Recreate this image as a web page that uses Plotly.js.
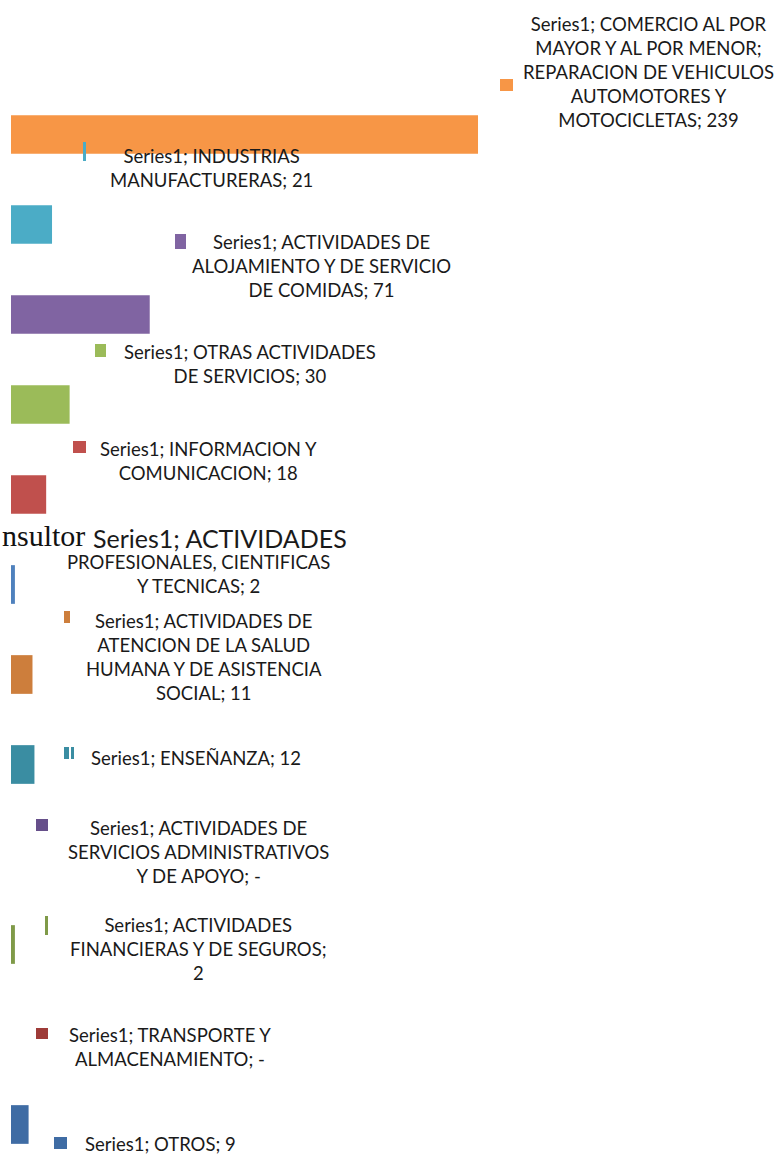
<!DOCTYPE html>
<html>
<head>
<meta charset="utf-8">
<script src="https://cdn.plot.ly/plotly-3.0.1.min.js"></script>
<style>html,body{margin:0;padding:0;background:#fff;}#chart{width:777px;height:1158px;}</style>
</head>
<body>
<div id="chart"></div>
<script>
// ---- data ----
const seriesName = "Series1";
const categories = [
  "COMERCIO AL POR MAYOR Y AL POR MENOR; REPARACION DE VEHICULOS AUTOMOTORES Y MOTOCICLETAS",
  "INDUSTRIAS MANUFACTURERAS",
  "ACTIVIDADES DE ALOJAMIENTO Y DE SERVICIO DE COMIDAS",
  "OTRAS ACTIVIDADES DE SERVICIOS",
  "INFORMACION Y COMUNICACION",
  "ACTIVIDADES PROFESIONALES, CIENTIFICAS Y TECNICAS",
  "ACTIVIDADES DE ATENCION DE LA SALUD HUMANA Y DE ASISTENCIA SOCIAL",
  "ENSEÑANZA",
  "ACTIVIDADES DE SERVICIOS ADMINISTRATIVOS Y DE APOYO",
  "ACTIVIDADES FINANCIERAS Y DE SEGUROS",
  "TRANSPORTE Y ALMACENAMIENTO",
  "OTROS"
];
const values = [239, 21, 71, 30, 18, 2, 11, 12, null, 2, null, 9];
const colors = ["#F79646","#4BACC6","#8064A2","#9BBB59","#C0504D","#4F81BD",
                "#CD7E3C","#3A8DA2","#664F8A","#7F9A48","#9E3B38","#3F6CA4"];
// wrapped label text as in the picture ({s} = series, {v} = value)
const labelTemplates = [
  "{s}; COMERCIO AL POR<br>MAYOR Y AL POR MENOR;<br>REPARACION DE VEHICULOS<br>AUTOMOTORES Y<br>MOTOCICLETAS; {v}",
  "{s}; INDUSTRIAS<br>MANUFACTURERAS; {v}",
  "{s}; ACTIVIDADES DE<br>ALOJAMIENTO Y DE SERVICIO<br>DE COMIDAS; {v}",
  "{s}; OTRAS ACTIVIDADES<br>DE SERVICIOS; {v}",
  "{s}; INFORMACION Y<br>COMUNICACION; {v}",
  "PROFESIONALES, CIENTIFICAS<br>Y TECNICAS; {v}",
  "{s}; ACTIVIDADES DE<br>ATENCION DE LA SALUD<br>HUMANA Y DE ASISTENCIA<br>SOCIAL; {v}",
  "{s}; ENSEÑANZA; {v}",
  "{s}; ACTIVIDADES DE<br>SERVICIOS ADMINISTRATIVOS<br>Y DE APOYO; {v}",
  "{s}; ACTIVIDADES<br>FINANCIERAS Y DE SEGUROS;<br>{v}",
  "{s}; TRANSPORTE Y<br>ALMACENAMIENTO; {v}",
  "{s}; OTROS; {v}"
];
const profHead = "{s}; ACTIVIDADES";
const strayText = "nsultor";

// ---- layout helpers (pixel -> paper) ----
const W = 777, H = 1158;
const px = x => x / W;
const py = y => 1 - y / H;

// label centre positions in pixels
const labelPos = [
  [648, 72], [212, 168], [321, 266], [250, 364], [209, 461], [198, 574],
  [204, 657], [196, 758], [198, 852], [198, 949], [170, 1047], [160, 1144]
];
// legend-key squares [x0,y0,x1,y1,colorIndex]
const keys = [
  [500,79,513,91,0],[83,142,86,161,1],[175,234,186,249,2],[95,344,106,357,3],
  [73,441,86,453,4],[64,611,70,623,6],[64,747,69,759,7],[71,747,74,759,7],
  [36,819,48,831,8],[45,916,48,935,9],[36,1028,48,1039,10],[54,1137,67,1149,11]
];

const fmt = v => (v === null ? "-" : String(v));
const fontFam = "Lato, 'Open Sans', sans-serif";

const annotations = labelTemplates.map((t, i) => ({
  xref: "paper", yref: "paper",
  x: px(labelPos[i][0]), y: py(labelPos[i][1]),
  xanchor: "center", yanchor: "middle",
  text: t.replace("{s}", seriesName).replace("{v}", fmt(values[i])),
  showarrow: false, align: "center",
  font: {family: fontFam, size: 18.5, color: "#1a1a1a"}
}));
annotations.push({
  xref: "paper", yref: "paper", x: px(220), y: py(538),
  xanchor: "center", yanchor: "middle",
  text: profHead.replace("{s}", seriesName), showarrow: false,
  font: {family: fontFam, size: 25, color: "#1a1a1a"}
});
annotations.push({
  xref: "paper", yref: "paper", x: px(0), y: py(536),
  xanchor: "left", yanchor: "middle",
  text: strayText, showarrow: false,
  font: {family: "'Liberation Serif', serif", size: 30, color: "#111"}
});

const shapes = keys.map(k => ({
  type: "rect", xref: "paper", yref: "paper",
  x0: px(k[0]), x1: px(k[2]), y0: py(k[3]), y1: py(k[1]),
  fillcolor: colors[k[4]], line: {width: 0}
}));

const trace = {
  type: "bar", orientation: "h",
  y: categories, x: values,
  marker: {color: colors, line: {width: 0}},
  width: 0.43,
  hoverinfo: "none"
};

const pxPerUnit = 1.954, x0px = 11;
const y0px = 134.5, yStep = 90;
const layout = {
  width: W, height: H,
  margin: {l: 0, r: 0, t: 0, b: 0},
  paper_bgcolor: "#fff", plot_bgcolor: "#fff",
  showlegend: false,
  xaxis: {visible: false, range: [-x0px / pxPerUnit, (W - x0px) / pxPerUnit], fixedrange: true},
  yaxis: {visible: false, type: "category", categoryorder: "array", categoryarray: categories,
          range: [(H - y0px) / yStep, -y0px / yStep], fixedrange: true},
  annotations: annotations,
  shapes: shapes
};

Plotly.newPlot("chart", [trace], layout, {displayModeBar: false, staticPlot: true});
</script>
</body>
</html>
